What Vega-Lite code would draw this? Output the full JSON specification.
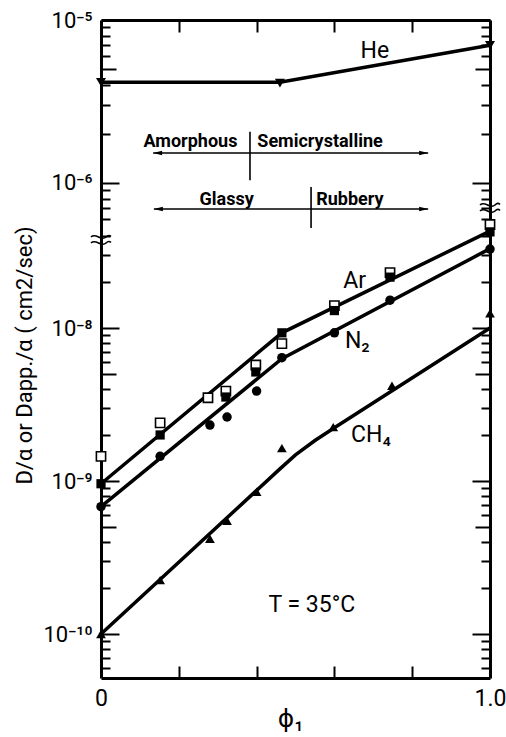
{
  "$schema": "https://vega.github.io/schema/vega-lite/v6.json",
  "width": 389,
  "height": 658,
  "autosize": {"type": "none"},
  "padding": {"left": 101, "top": 20, "right": 16, "bottom": 59},
  "background": "white",
  "config": {
    "view": {"stroke": null},
    "font": "Roboto, DejaVu Sans, sans-serif",
    "axis": {
      "grid": false,
      "domainColor": "black",
      "domainWidth": 3,
      "tickColor": "black",
      "tickWidth": 2,
      "labelColor": "black",
      "titleColor": "black",
      "labelFont": "Roboto, DejaVu Sans, sans-serif",
      "titleFont": "Roboto, DejaVu Sans, sans-serif",
      "labelOverlap": false,
      "labelFlush": false,
      "titleFontWeight": "normal"
    }
  },
  "datasets": {
    "fits": [
      {"gas": "He", "phi": 0, "D": 4.15e-6},
      {"gas": "He", "phi": 0.46, "D": 4.15e-6},
      {"gas": "He", "phi": 1.0, "D": 7.0e-6},
      {"gas": "Ar", "phi": 0, "D": 9.6e-10},
      {"gas": "Ar", "phi": 0.465, "D": 9.3e-9},
      {"gas": "Ar", "phi": 1.0, "D": 4.3e-8},
      {"gas": "N2", "phi": 0, "D": 6.8e-10},
      {"gas": "N2", "phi": 0.465, "D": 6.3e-9},
      {"gas": "N2", "phi": 1.0, "D": 3.3e-8},
      {"gas": "CH4", "phi": 0, "D": 1.0e-10},
      {"gas": "CH4", "phi": 0.46, "D": 1.2e-9},
      {"gas": "CH4", "phi": 0.5, "D": 1.48e-9},
      {"gas": "CH4", "phi": 0.55, "D": 1.84e-9},
      {"gas": "CH4", "phi": 0.6, "D": 2.23e-9},
      {"gas": "CH4", "phi": 1.0, "D": 1.0e-8}
    ],
    "points": [
      {"series": "Ar (apparent)", "phi": 0, "D": 1.45e-9},
      {"series": "Ar (apparent)", "phi": 0.152, "D": 2.4e-9},
      {"series": "Ar (apparent)", "phi": 0.275, "D": 3.5e-9},
      {"series": "Ar (apparent)", "phi": 0.321, "D": 3.87e-9},
      {"series": "Ar (apparent)", "phi": 0.398, "D": 5.73e-9},
      {"series": "Ar (apparent)", "phi": 0.465, "D": 7.9e-9},
      {"series": "Ar (apparent)", "phi": 0.6, "D": 1.4e-8},
      {"series": "Ar (apparent)", "phi": 0.743, "D": 2.3e-8},
      {"series": "Ar (apparent)", "phi": 1.0, "D": 4.75e-8},
      {"series": "Ar", "phi": 0, "D": 9.6e-10},
      {"series": "Ar", "phi": 0.152, "D": 2.0e-9},
      {"series": "Ar", "phi": 0.321, "D": 3.54e-9},
      {"series": "Ar", "phi": 0.398, "D": 5.16e-9},
      {"series": "Ar", "phi": 0.465, "D": 9.3e-9},
      {"series": "Ar", "phi": 0.6, "D": 1.3e-8},
      {"series": "Ar", "phi": 0.743, "D": 2.15e-8},
      {"series": "Ar", "phi": 1.0, "D": 4.25e-8},
      {"series": "N2", "phi": 0, "D": 6.8e-10},
      {"series": "N2", "phi": 0.152, "D": 1.45e-9},
      {"series": "N2", "phi": 0.28, "D": 2.32e-9},
      {"series": "N2", "phi": 0.324, "D": 2.62e-9},
      {"series": "N2", "phi": 0.4, "D": 3.87e-9},
      {"series": "N2", "phi": 0.465, "D": 6.4e-9},
      {"series": "N2", "phi": 0.6, "D": 9.3e-9},
      {"series": "N2", "phi": 0.743, "D": 1.52e-8},
      {"series": "N2", "phi": 1.0, "D": 3.28e-8},
      {"series": "CH4", "phi": 0, "D": 1.0e-10},
      {"series": "CH4", "phi": 0.152, "D": 2.25e-10},
      {"series": "CH4", "phi": 0.28, "D": 4.2e-10},
      {"series": "CH4", "phi": 0.324, "D": 5.5e-10},
      {"series": "CH4", "phi": 0.4, "D": 8.5e-10},
      {"series": "CH4", "phi": 0.465, "D": 1.64e-9},
      {"series": "CH4", "phi": 0.597, "D": 2.25e-9},
      {"series": "CH4", "phi": 0.748, "D": 4.2e-9},
      {"series": "CH4", "phi": 1.0, "D": 1.25e-8},
      {"series": "He", "phi": 0, "D": 4.15e-6},
      {"series": "He", "phi": 0.46, "D": 4.1e-6},
      {"series": "He", "phi": 1.0, "D": 7.0e-6}
    ],
    "ranges": [
      {"row": "morphology", "phi_start": 0.134, "phi_end": 0.841, "D": 1.528e-6},
      {"row": "state", "phi_start": 0.136, "phi_end": 0.841, "D": 6.93e-7}
    ],
    "dividers": [
      {"row": "morphology", "phi": 0.383, "D_top": 2.06e-6, "D_bottom": 1.04e-6},
      {"row": "state", "phi": 0.54, "D_top": 9.45e-7, "D_bottom": 4.51e-8}
    ],
    "notes": [
      {"role": "regime", "text": "Amorphous", "phi": 0.23, "D": 1.663e-6},
      {"role": "regime", "text": "Semicrystalline", "phi": 0.563, "D": 1.663e-6},
      {"role": "regime", "text": "Glassy", "phi": 0.323, "D": 7.33e-7},
      {"role": "regime", "text": "Rubbery", "phi": 0.64, "D": 7.33e-7},
      {"role": "gas", "text": "He", "phi": 0.704, "D": 5.85e-6},
      {"role": "gas", "text": "Ar", "phi": 0.652, "D": 1.825e-8},
      {"role": "gas", "text": "N₂", "phi": 0.659, "D": 7.4e-9},
      {"role": "gas", "text": "CH₄", "phi": 0.694, "D": 1.8e-9},
      {"role": "gas", "text": "T = 35°C", "phi": 0.542, "D": 1.393e-10}
    ],
    "breaks": [
      {"side": "left", "phi": 0, "D": 3.76e-8},
      {"side": "right", "phi": 1.0, "D": 7.03e-7}
    ]
  },
  "layer": [
    {
      "data": {"name": "fits"},
      "mark": {"type": "line", "color": "black", "strokeWidth": 3.5},
      "encoding": {
        "x": {
          "field": "phi", "type": "quantitative",
          "scale": {"domain": [0, 1], "nice": false, "zero": false},
          "axis": {
            "orient": "bottom",
            "values": [0, 1],
            "ticks": false,
            "labelPadding": 9,
            "labelFontSize": 23,
            "labelExpr": "datum.value == 0 ? '0' : '1.0'",
            "title": "ϕ₁",
            "titleFontSize": 25,
            "titleX": 189,
            "titleY": 40,
            "titleBaseline": "middle"
          }
        },
        "y": {
          "field": "D", "type": "quantitative",
          "scale": {"type": "log", "domain": [5.16e-11, 4.856e-8, 5.683e-7, 1e-5], "range": [658, 203, 203, 0], "nice": false, "zero": false},
          "axis": {
            "orient": "left",
            "values": [1e-5, 1e-6, 1e-8, 1e-9, 1e-10],
            "ticks": false,
            "labelPadding": 9,
            "labelFontSize": 22,
            "labelBaseline": "middle",
            "labelExpr": "'10' + (round(log(datum.value)/LN10) == -5 ? '⁻⁵' : round(log(datum.value)/LN10) == -6 ? '⁻⁶' : round(log(datum.value)/LN10) == -8 ? '⁻⁸' : round(log(datum.value)/LN10) == -9 ? '⁻⁹' : '⁻¹⁰')",
            "title": "D/α  or  Dapp./α  ( cm2/sec)",
            "titleFontSize": 22,
            "titleX": -77,
            "titleY": 335,
            "titleAngle": -90,
            "titleAlign": "center",
            "titleBaseline": "middle"
          }
        },
        "detail": {"field": "gas"}
      }
    },
    {
      "data": {"name": "points"},
      "transform": [{"filter": "datum.series == 'Ar (apparent)'"}],
      "mark": {"type": "point", "shape": "square", "filled": true, "fill": "white", "stroke": "black", "strokeWidth": 1.6, "size": 85, "opacity": 1},
      "encoding": {
        "x": {
          "field": "phi", "type": "quantitative",
          "axis": {"orient": "top", "offset": -658, "values": [0.2, 0.4, 0.6, 0.8], "tickSize": 12, "labels": false, "domain": false, "title": null}
        },
        "y": {
          "field": "D", "type": "quantitative",
          "axis": {
            "orient": "right",
            "offset": -389,
            "values": [1e-5, 9e-6, 8e-6, 7e-6, 6e-6, 5e-6, 4e-6, 3e-6, 2e-6, 1e-6, 9e-7, 8e-7, 7e-7, 6e-7, 4e-8, 3e-8, 2e-8, 1e-8, 9e-9, 8e-9, 7e-9, 6e-9, 5e-9, 4e-9, 3e-9, 2e-9, 1e-9, 9e-10, 8e-10, 7e-10, 6e-10, 5e-10, 4e-10, 3e-10, 2e-10, 1e-10, 9e-11, 8e-11, 7e-11, 6e-11],
            "tickSize": {"condition": [{"test": "abs(log(datum.value)/LN10 - round(log(datum.value)/LN10)) < 0.001", "value": 18}, {"test": "abs(log(datum.value/5)/LN10 - round(log(datum.value/5)/LN10)) < 0.001", "value": 15}], "value": 9},
            "labels": false,
            "domain": false,
            "title": null
          }
        }
      }
    },
    {
      "data": {"name": "points"},
      "transform": [{"filter": "datum.series != 'Ar (apparent)'"}],
      "mark": {"type": "point", "filled": true, "color": "black", "opacity": 1},
      "encoding": {
        "x": {
          "field": "phi", "type": "quantitative",
          "axis": {"orient": "bottom", "offset": -658, "values": [0.2, 0.4, 0.6, 0.8], "tickSize": 12, "labels": false, "domain": true, "title": null}
        },
        "y": {
          "field": "D", "type": "quantitative",
          "axis": {
            "orient": "left",
            "offset": -389,
            "values": [1e-5, 9e-6, 8e-6, 7e-6, 6e-6, 5e-6, 4e-6, 3e-6, 2e-6, 1e-6, 9e-7, 8e-7, 7e-7, 6e-7, 4e-8, 3e-8, 2e-8, 1e-8, 9e-9, 8e-9, 7e-9, 6e-9, 5e-9, 4e-9, 3e-9, 2e-9, 1e-9, 9e-10, 8e-10, 7e-10, 6e-10, 5e-10, 4e-10, 3e-10, 2e-10, 1e-10, 9e-11, 8e-11, 7e-11, 6e-11],
            "tickSize": {"condition": [{"test": "abs(log(datum.value)/LN10 - round(log(datum.value)/LN10)) < 0.001", "value": 18}, {"test": "abs(log(datum.value/5)/LN10 - round(log(datum.value/5)/LN10)) < 0.001", "value": 15}], "value": 9},
            "labels": false,
            "domain": true,
            "title": null
          }
        },
        "shape": {
          "field": "series", "type": "nominal",
          "scale": {"domain": ["Ar", "N2", "CH4", "He"], "range": ["square", "circle", "triangle-up", "triangle-down"]},
          "legend": null
        },
        "size": {
          "field": "series", "type": "nominal",
          "scale": {"domain": ["Ar", "N2", "CH4", "He"], "range": [85, 100, 170, 170]},
          "legend": null
        }
      }
    },
    {
      "data": {"name": "ranges"},
      "mark": {"type": "rule", "color": "black", "strokeWidth": 1.6},
      "encoding": {
        "x": {"field": "phi_start", "type": "quantitative", "axis": null},
        "x2": {"field": "phi_end"},
        "y": {"field": "D", "type": "quantitative", "axis": null}
      }
    },
    {
      "data": {"name": "ranges"},
      "mark": {"type": "point", "shape": "M0,0 L1.8,-0.45 L1.8,0.45 Z", "filled": true, "color": "black", "size": 100, "opacity": 1},
      "encoding": {
        "x": {"field": "phi_start", "type": "quantitative", "axis": null},
        "y": {"field": "D", "type": "quantitative", "axis": null}
      }
    },
    {
      "data": {"name": "ranges"},
      "mark": {"type": "point", "shape": "M0,0 L-1.8,-0.45 L-1.8,0.45 Z", "filled": true, "color": "black", "size": 100, "opacity": 1},
      "encoding": {
        "x": {"field": "phi_end", "type": "quantitative", "axis": null},
        "y": {"field": "D", "type": "quantitative", "axis": null}
      }
    },
    {
      "data": {"name": "dividers"},
      "mark": {"type": "rule", "color": "black", "strokeWidth": 1.6},
      "encoding": {
        "x": {"field": "phi", "type": "quantitative", "axis": null},
        "y": {"field": "D_top", "type": "quantitative", "axis": null},
        "y2": {"field": "D_bottom"}
      }
    },
    {
      "data": {"name": "notes"},
      "transform": [{"filter": "datum.role == 'regime'"}],
      "mark": {"type": "text", "align": "center", "baseline": "alphabetic", "fontSize": 18, "fontWeight": "bold", "color": "black"},
      "encoding": {
        "x": {"field": "phi", "type": "quantitative", "axis": null},
        "y": {"field": "D", "type": "quantitative", "axis": null},
        "text": {"field": "text"}
      }
    },
    {
      "data": {"name": "notes"},
      "transform": [{"filter": "datum.role == 'gas'"}],
      "mark": {"type": "text", "align": "center", "baseline": "alphabetic", "fontSize": 23, "color": "black"},
      "encoding": {
        "x": {"field": "phi", "type": "quantitative", "axis": null},
        "y": {"field": "D", "type": "quantitative", "axis": null},
        "text": {"field": "text"}
      }
    },
    {
      "data": {"name": "breaks"},
      "mark": {"type": "point", "shape": "M-1,-0.3 C-0.5,-0.8 0,0.2 0.5,-0.3 C0.75,-0.55 0.9,-0.45 1,-0.35 M-1,0.3 C-0.5,-0.2 0,0.8 0.5,0.3 C0.75,0.05 0.9,0.15 1,0.25", "filled": false, "color": "black", "strokeWidth": 1.6, "size": 400, "opacity": 1},
      "encoding": {
        "x": {"field": "phi", "type": "quantitative", "axis": null},
        "y": {"field": "D", "type": "quantitative", "axis": null}
      }
    }
  ],
  "resolve": {"axis": {"x": "independent", "y": "independent"}}
}
